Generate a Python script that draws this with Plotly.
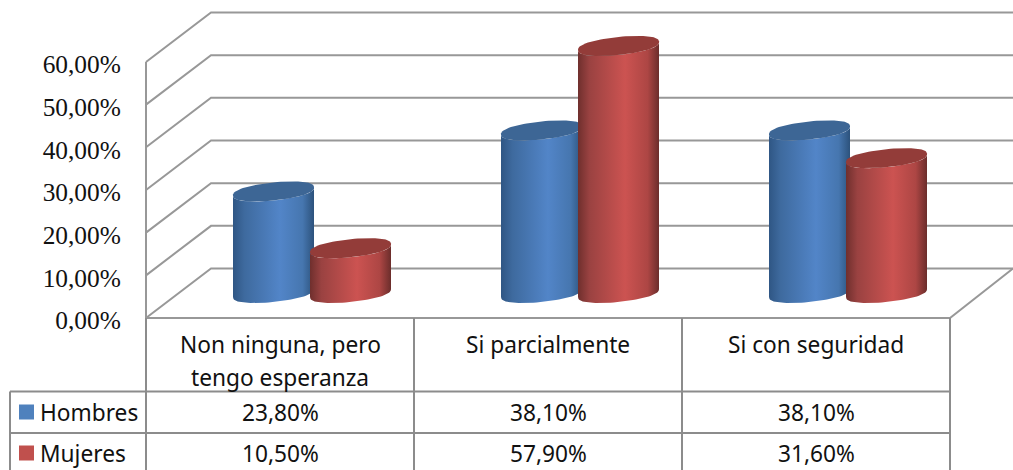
import numpy as np
import plotly.graph_objects as go

# ---- data ----
categories = ["Non ninguna, pero<br>tengo esperanza", "Si parcialmente", "Si con seguridad"]
hombres = [23.8, 38.1, 38.1]
mujeres = [10.5, 57.9, 31.6]
series_names = ["Hombres", "Mujeres"]
y_ticks = [0, 10, 20, 30, 40, 50, 60]

# ---- canvas / scales ----
W, H = 1013, 470
PX_X = 268.0      # px per category slot
PX_Y = 4.267      # px per percentage point
X0, Y0 = 146.0, 318.0  # pixel of the chart origin

def ux(px):  # pixel distance to x axis units
    return px / PX_X
def uy(px):  # pixel distance to y axis units
    return px / PX_Y
def X(px):
    return (px - X0) / PX_X
def Y(py):
    return (Y0 - py) / PX_Y

fmt = lambda v: f"{v:.2f}".replace(".", ",") + "%"
fmt1 = lambda v: f"{v:.1f}0".replace(".", ",") + "%"

GRID = "#989898"
TABLE = "#8c8c8c"
BLUE_KEY, RED_KEY = "#4f81bd", "#c0504d"
DEPTH_X, DEPTH_Y = ux(65), uy(49.5)

fig = go.Figure()

# ---- walls, floor ----
gx, gy = [], []
for v in y_ticks:
    gx += [0, DEPTH_X, X(W), None]
    gy += [v, v + DEPTH_Y, v + DEPTH_Y, None]
gx += [0, 0, None, 0, 3, X(W)]
gy += [0, y_ticks[-1], None, 0, 0, DEPTH_Y]
fig.add_trace(go.Scatter(x=gx, y=gy, mode="lines", line=dict(color=GRID, width=2),
                         hoverinfo="skip", showlegend=False))

# ---- cylinders ----
HALF_W, SEMI, TILT = ux(40.5), uy(9.0), uy(4.0)
FLOOR = uy(25)
OFFSET = {"Hombres": ux(127.5), "Mujeres": ux(204.5)}
SCALES = {
    "Hombres": dict(cap="#3d6695", colors=[[0, "#2f5684"], [0.14, "#3e6a9e"], [0.58, "#5285c8"],
                                           [0.86, "#4676af"], [1, "#2c527c"]]),
    "Mujeres": dict(cap="#933c39", colors=[[0, "#6f2f2d"], [0.14, "#9a4241"], [0.58, "#cc5351"],
                                           [0.86, "#ad4644"], [1, "#6b2d2b"]]),
}

def ellipse(cx, base, t):
    x = cx - HALF_W * np.cos(t)
    s = np.sin(t)
    y = base - SEMI * np.sign(s) * np.abs(s) ** 0.8 + TILT * (x - cx) / HALF_W
    return x, y

t_half = np.linspace(0, np.pi, 40)
t_full = np.linspace(0, 2 * np.pi, 80)
for name, values in zip(series_names, [hombres, mujeres]):
    style = SCALES[name]
    for i, v in enumerate(values):
        cx = i + OFFSET[name]
        bx, by = ellipse(cx, FLOOR, t_half)
        tx, ty = ellipse(cx, FLOOR + v, t_half[::-1])
        fig.add_trace(go.Scatter(
            x=np.r_[bx, tx], y=np.r_[by, ty], mode="lines", fill="toself",
            line=dict(width=0),
            fillgradient=dict(type="horizontal", start=cx - HALF_W, stop=cx + HALF_W,
                              colorscale=style["colors"]),
            name=name, hoverinfo="skip", showlegend=False))
        ex, ey = ellipse(cx, FLOOR + v, t_full)
        fig.add_trace(go.Scatter(x=ex, y=ey, mode="lines", fill="toself",
                                 fillcolor=style["cap"], line=dict(width=0),
                                 name=name, hoverinfo="skip", showlegend=False))

# ---- data table ----
ROW_TOP, ROW1, ROW2 = Y(391.5), Y(433), Y(H + 4)
LEFT = X(10)
tx_, ty_ = [], []
for c in range(4):
    tx_ += [c, c, None]
    ty_ += [0, ROW2, None]
tx_ += [LEFT, 3, None, LEFT, 3, None, LEFT, LEFT]
ty_ += [ROW_TOP, ROW_TOP, None, ROW1, ROW1, None, ROW_TOP, ROW2]
fig.add_trace(go.Scatter(x=tx_, y=ty_, mode="lines", line=dict(color=TABLE, width=2),
                         hoverinfo="skip", showlegend=False))

FONT = dict(family="Noto Sans", size=22.7, color="#111111")
for i, cat in enumerate(categories):
    for j, line in enumerate(cat.split("<br>")):
        fig.add_annotation(x=i + 0.5, y=Y(344 + j * 33), text=line, showarrow=False,
                           xanchor="center", yanchor="middle", font=FONT)
for row_y, key_col, name, values in [(412, BLUE_KEY, series_names[0], hombres),
                                     (453, RED_KEY, series_names[1], mujeres)]:
    for i, v in enumerate(values):
        fig.add_annotation(x=i + 0.5, y=Y(row_y), text=fmt1(v), showarrow=False,
                           xanchor="center", yanchor="middle", font=FONT)
    fig.add_annotation(x=X(41), y=Y(row_y), text=name, showarrow=False,
                       xanchor="left", xshift=-3, yanchor="middle", font=FONT)
    fig.add_shape(type="rect", x0=X(19), x1=X(34), y0=Y(row_y - 7.5), y1=Y(row_y + 7.5),
                  fillcolor=key_col, line=dict(width=0))

# the value labels sit a little below their gridline, so they live on an overlaid axis
LABEL_DROP = uy(2.5)
fig.add_trace(go.Scatter(x=[0], y=[0], yaxis="y2", mode="markers", marker=dict(opacity=0),
                         hoverinfo="skip", showlegend=False))

fig.update_layout(
    width=W, height=H, margin=dict(l=0, r=0, t=0, b=0),
    paper_bgcolor="white", plot_bgcolor="white", showlegend=False,
    xaxis=dict(range=[X(0), X(W)], visible=False, fixedrange=True),
    yaxis=dict(range=[Y(H), Y(0)], visible=False, fixedrange=True),
    yaxis2=dict(range=[Y(H) + LABEL_DROP, Y(0) + LABEL_DROP], overlaying="y", anchor="free",
                position=X0 / W, showgrid=False, zeroline=False, showline=False,
                tickmode="array", tickvals=y_ticks, ticktext=[fmt(v) for v in y_ticks],
                ticks="outside", ticklen=20, tickcolor="rgba(0,0,0,0)",
                tickfont=dict(family="Liberation Serif", size=25.4, color="#111111"),
                fixedrange=True),
)
fig.write_html("out.html", config=dict(displayModeBar=False),
               post_script="document.body.style.margin='0';document.body.style.overflow='hidden';")
